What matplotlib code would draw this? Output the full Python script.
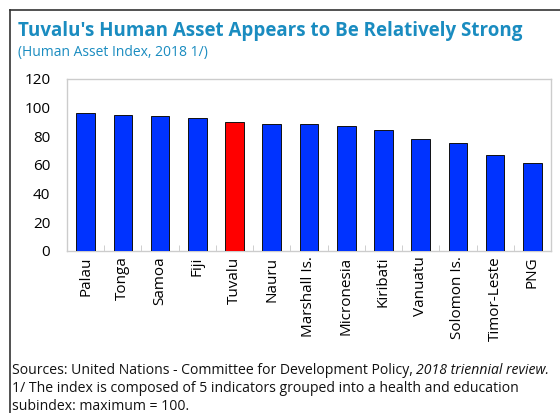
import matplotlib
matplotlib.use("Agg")
import matplotlib.pyplot as plt
from matplotlib.lines import Line2D

countries = ["Palau", "Tonga", "Samoa", "Fiji", "Tuvalu", "Nauru", "Marshall Is.",
             "Micronesia", "Kiribati", "Vanuatu", "Solomon Is.", "Timor-Leste", "PNG"]
hai_values = [96.5, 94.7, 94.2, 93.0, 90.0, 88.4, 88.4, 87.5, 84.2, 78.4, 75.1, 66.7, 61.6]
highlight = "Tuvalu"
y_ticks = [0, 20, 40, 60, 80, 100, 120]

plt.rcParams["font.family"] = ["Open Sans", "DejaVu Sans"]

W, H = 560, 413
fig = plt.figure(figsize=(W / 100, H / 100), dpi=100)

# outer frame (top and left rules)
fig.add_artist(Line2D([10 / W, 1.0], [1 - 10 / H, 1 - 10 / H], color="#333333", lw=1.2,
                      transform=fig.transFigure))
fig.add_artist(Line2D([10 / W, 10 / W], [1 - 10 / H, 0], color="#333333", lw=1.2,
                      transform=fig.transFigure))

title_color = "#1a8cc0"
fig.text(18 / W, 1 - 36 / H, "Tuvalu's Human Asset Appears to Be Relatively Strong",
         fontsize=13.5, fontweight="bold", color=title_color, va="baseline", ha="left")
fig.text(18 / W, 1 - 56 / H, "(Human Asset Index, 2018 1/)",
         fontsize=10, color=title_color, va="baseline", ha="left")

left, right, top, bottom = 67, 551, 79, 251
ax = fig.add_axes([left / W, 1 - bottom / H, (right - left) / W, (bottom - top) / H])

colors = ["#ff0000" if c == highlight else "#0033ff" for c in countries]
x = list(range(len(countries)))
ax.bar(x, hai_values, width=0.5, color=colors, edgecolor="#111111", linewidth=0.7, zorder=3)

ax.set_xlim(-0.5, len(countries) - 0.5)
ax.set_ylim(0, 120)
ax.set_yticks(y_ticks)
ax.set_yticklabels([str(v) for v in y_ticks], fontsize=11)
ax.set_xticks(x)
ax.set_xticklabels(countries, rotation=90, fontsize=11)
ax.tick_params(axis="x", length=0, pad=4)
ax.tick_params(axis="y", length=0, pad=12)
# minor ticks between categories
ax.set_xticks([i + 0.5 for i in range(len(countries) - 1)], minor=True)
ax.tick_params(axis="x", which="minor", direction="in", length=4, color="#c8c8c8")

for s in ax.spines.values():
    s.set_color("#cccccc")
    s.set_linewidth(1.0)

fs = 10.1
fig.text(12 / W, 1 - 374 / H, "Sources: United Nations - Committee for Development Policy, ",
         fontsize=fs, va="baseline", ha="left", color="#111111")
t1 = fig.texts[-1]
fig.canvas.draw()
bb = t1.get_window_extent()
fig.text(bb.x1 / W, 1 - 374 / H, "2018 triennial review.", fontsize=fs, style="italic",
         va="baseline", ha="left", color="#111111")
fig.text(12 / W, 1 - 392 / H, "1/ The index is composed of 5 indicators grouped into a health and education",
         fontsize=fs, va="baseline", ha="left", color="#111111")
fig.text(12 / W, 1 - 410 / H, "subindex: maximum = 100.",
         fontsize=fs, va="baseline", ha="left", color="#111111")

fig.savefig("out.png", dpi=100)
